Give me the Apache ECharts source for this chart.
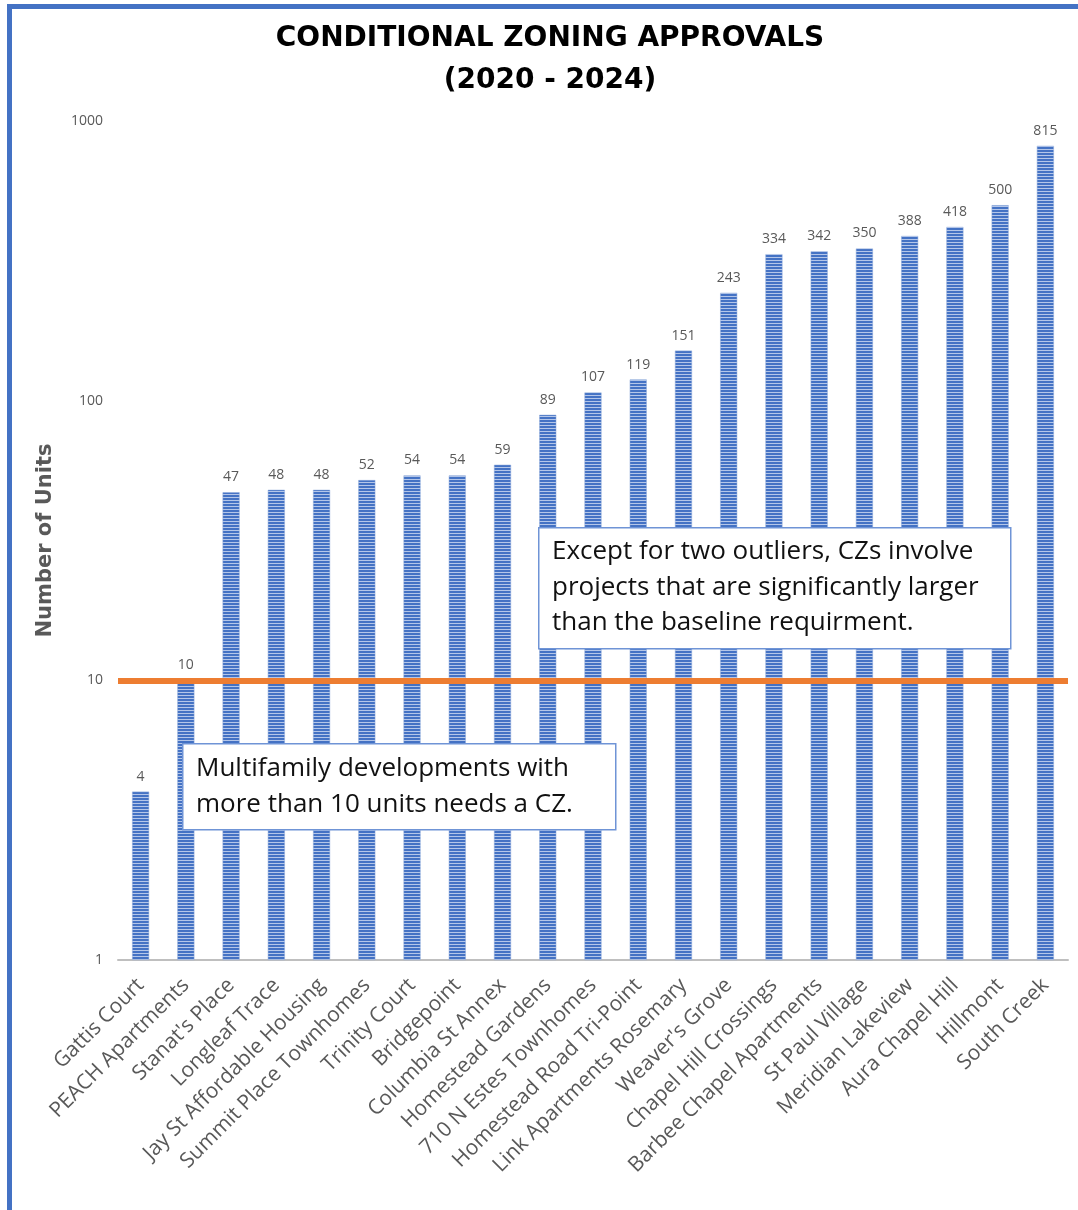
<!DOCTYPE html>
<html><head><meta charset="utf-8">
<script src="https://cdn.jsdelivr.net/npm/echarts@6/dist/echarts.min.js"></script>
<style>html,body{margin:0;padding:0;background:#fff}#c{width:1078px;height:1210px}</style>
</head><body><div id="c"></div>
<script>
const categories = ["Gattis Court","PEACH Apartments","Stanat's Place","Longleaf Trace","Jay St Affordable Housing","Summit Place Townhomes","Trinity Court","Bridgepoint","Columbia St Annex","Homestead Gardens","710 N Estes Townhomes","Homestead Road Tri-Point","Link Apartments Rosemary","Weaver's Grove","Chapel Hill Crossings","Barbee Chapel Apartments","St Paul Village","Meridian Lakeview","Aura Chapel Hill","Hillmont","South Creek"];
const units = [4,10,47,48,48,52,54,54,59,89,107,119,151,243,334,342,350,388,418,500,815];
const threshold = 10;
const titleText = "CONDITIONAL ZONING APPROVALS\n(2020 - 2024)";
const note1 = "Except for two outliers, CZs involve\nprojects that are significantly larger\nthan the baseline requirment.";
const note2 = "Multifamily developments with\nmore than 10 units needs a CZ.";

const pc = document.createElement('canvas');
pc.width = 4; pc.height = 3;
const g = pc.getContext('2d');
g.fillStyle = '#4472c4'; g.fillRect(0,0,4,2);
g.fillStyle = '#b4c6e9'; g.fillRect(0,2,4,1);

const chart = echarts.init(document.getElementById('c'), null, {renderer:'canvas'});
const grey = '#595959';
chart.setOption({
  animation:false,
  backgroundColor:'#fff',
  title:{text:titleText,left:545,top:13,textAlign:'center',
    textStyle:{fontFamily:'DejaVu Sans',fontWeight:'bold',fontSize:28,lineHeight:42,color:'#000'}},
  grid:{left:118,right:10,top:121,bottom:250,containLabel:false},
  xAxis:{type:'category',data:categories,
    axisLine:{lineStyle:{color:'#bfbfbf',width:2}},axisTick:{show:false},
    axisLabel:{interval:0,rotate:45,color:grey,fontFamily:'Open Sans',fontSize:21,margin:22}},
  yAxis:{type:'log',logBase:10,min:1,max:1000,
    name:'Number of Units',nameLocation:'middle',nameGap:62,nameRotate:90,
    nameTextStyle:{color:grey,fontFamily:'DejaVu Sans',fontWeight:'bold',fontSize:21},
    axisLine:{show:false},axisTick:{show:false},splitLine:{show:false},
    axisLabel:{color:grey,fontFamily:'Open Sans',fontSize:14,margin:15,formatter:v=>String(Math.round(v))}},
  series:[{type:'bar',data:units,barWidth:17,z:2,
    itemStyle:{color:{image:pc,repeat:'repeat'},borderColor:'#8eaadb',borderWidth:0.5},
    label:{show:true,position:'top',distance:8,color:grey,fontFamily:'Open Sans',fontSize:14},
    markLine:{silent:true,symbol:'none',label:{show:false},
      lineStyle:{color:'#ed7d31',width:6,type:'solid'},
      data:[{yAxis:threshold}],z:5}
  }],
  graphic:[
    {type:'rect',left:7,top:4,z:100,shape:{width:5,height:1206},style:{fill:'#4472c4'}},
    {type:'rect',left:7,top:4,z:100,shape:{width:1071,height:5},style:{fill:'#4472c4'}},
    {type:'rect',left:538,top:527,z:50,shape:{width:472,height:121},style:{fill:'#fff',stroke:'#6f94d6',lineWidth:1.5}},
    {type:'text',left:552,top:534,z:51,style:{text:note1,font:'26px "Open Sans"',lineHeight:35.5,fill:'#111'}},
    {type:'rect',left:182,top:743,z:50,shape:{width:433,height:86},style:{fill:'#fff',stroke:'#6f94d6',lineWidth:1.5}},
    {type:'text',left:196,top:751,z:51,style:{text:note2,font:'26px "Open Sans"',lineHeight:35.5,fill:'#111'}}
  ]
});
</script></body></html>
